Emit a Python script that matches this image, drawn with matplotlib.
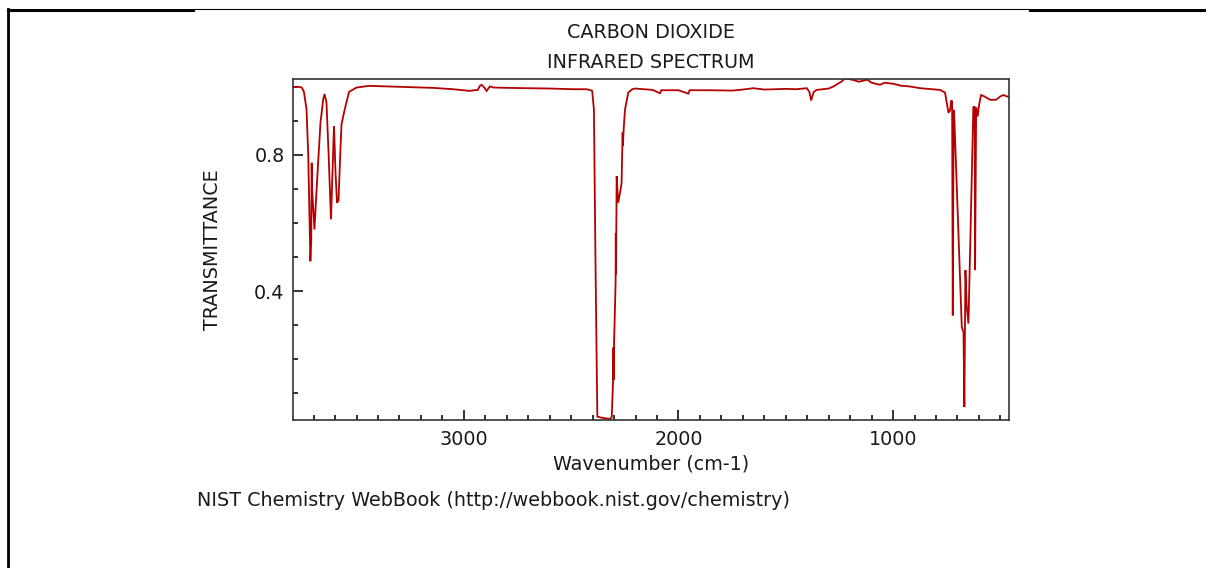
import matplotlib
matplotlib.use('Agg')
import matplotlib.pyplot as plt
from matplotlib.lines import Line2D
from matplotlib.ticker import MultipleLocator, FixedLocator

# 光谱数据
wavenumber = [
    3796, 3770, 3755, 3745, 3733, 3725, 3715, 3711, 3709, 3707, 3696, 3687,
    3675, 3668, 3655, 3649, 3640, 3630, 3619, 3612, 3605, 3598, 3591, 3584,
    3576, 3570, 3555, 3535, 3500, 3440,
    3400, 3300, 3200, 3145, 3050, 2972, 2950, 2935, 2925, 2917, 2905, 2894,
    2885, 2879, 2860, 2800, 2700, 2600, 2492, 2430, 2413, 2402,
    2394, 2386, 2378, 2360, 2340, 2320, 2311, 2305, 2303, 2302, 2300, 2293,
    2292, 2291, 2288, 2281, 2272, 2265, 2263, 2260, 2259, 2255, 2249, 2234,
    2215, 2203, 2164, 2120, 2086, 2080, 2000, 1954, 1948, 1850, 1750, 1700,
    1651, 1600, 1550, 1500, 1450, 1402, 1390, 1382, 1370, 1356, 1300, 1278,
    1239, 1224, 1200, 1185, 1160, 1120, 1100, 1061, 1040, 999, 960, 921,
    874, 820, 781, 758, 742, 735, 729, 725, 722, 718, 716, 680, 672, 668,
    663, 657, 649, 626, 620, 618, 613, 606, 600, 590, 575, 548, 520, 500,
    486, 470, 460,
]
transmittance = [
    1.000, 1.000, 0.998, 0.985, 0.934, 0.800, 0.488, 0.550, 0.777, 0.700, 0.581, 0.689,
    0.820, 0.895, 0.965, 0.979, 0.954, 0.800, 0.611, 0.750, 0.885, 0.750, 0.660, 0.665,
    0.800, 0.890, 0.934, 0.985, 0.998, 1.003,
    1.002, 1.000, 0.998, 0.997, 0.993, 0.988, 0.990, 0.991, 1.003, 1.006, 0.998, 0.988,
    0.996, 1.001, 0.998, 0.997, 0.996, 0.995, 0.993, 0.993, 0.991, 0.988,
    0.934, 0.450, 0.032, 0.029, 0.027, 0.025, 0.030, 0.130, 0.235, 0.140, 0.250, 0.424,
    0.571, 0.450, 0.738, 0.660, 0.690, 0.719, 0.787, 0.866, 0.826, 0.880, 0.934, 0.983,
    0.993, 0.995, 0.993, 0.991, 0.981, 0.990, 0.990, 0.980, 0.990, 0.990, 0.989, 0.992,
    0.996, 0.992, 0.993, 0.994, 0.993, 0.996, 0.985, 0.960, 0.985, 0.991, 0.995, 1.001,
    1.016, 1.025, 1.022, 1.020, 1.015, 1.021, 1.012, 1.006, 1.012, 1.009, 1.003, 1.001,
    0.996, 0.993, 0.991, 0.983, 0.924, 0.930, 0.960, 0.957, 0.329, 0.932, 0.930, 0.295, 0.280, 0.060,
    0.462, 0.356, 0.305, 0.942, 0.940, 0.462, 0.939, 0.913, 0.945, 0.976, 0.972, 0.962, 0.962, 0.972,
    0.976, 0.972, 0.970,
]

x_ticks = [3000, 2000, 1000]
y_ticks = [0.4, 0.8]

plt.rcParams['font.family'] = ['DejaVu Sans']
fs = 13.8
txt_color = '#1a1a1a'

fig = plt.figure(figsize=(12.06, 5.68), dpi=100)
ax = fig.add_axes([293 / 1206, 1 - 420 / 568, (1009 - 293) / 1206, (420 - 79) / 568])

ax.plot(wavenumber, transmittance, color='#b40000', lw=1.3, solid_joinstyle='miter')
ax.set_xlim(3796, 460)
ax.set_ylim(0.022, 1.023)

ax.xaxis.set_major_locator(FixedLocator(x_ticks))
ax.xaxis.set_minor_locator(MultipleLocator(100))
ax.yaxis.set_major_locator(FixedLocator(y_ticks))
ax.yaxis.set_minor_locator(MultipleLocator(0.1))
ax.set_xticklabels([str(t) for t in x_ticks])
ax.set_yticklabels([str(t) for t in y_ticks])

ax.tick_params(which='both', direction='in', top=False, right=False,
               width=1.3, color='#222222', labelsize=fs, labelcolor=txt_color)
ax.tick_params(which='major', length=7)
ax.tick_params(which='minor', length=3.5)
ax.tick_params(axis='x', which='major', pad=7)
ax.tick_params(axis='y', which='major', pad=6)

for s in ax.spines.values():
    s.set_linewidth(1.2)
    s.set_color('#333333')

ax.set_xlabel('Wavenumber (cm-1)', fontsize=fs, labelpad=4, color=txt_color)
ax.set_ylabel('TRANSMITTANCE', fontsize=fs, labelpad=23, color=txt_color)

# 标题两行
fig.text(651 / 1206, 1 - 33 / 568, 'CARBON DIOXIDE', ha='center', va='center',
         fontsize=fs, color=txt_color)
fig.text(651 / 1206, 1 - 62 / 568, 'INFRARED SPECTRUM', ha='center', va='center',
         fontsize=fs, color=txt_color)

# 底部来源说明
fig.text(197 / 1206, 1 - 500 / 568, 'NIST Chemistry WebBook (http://webbook.nist.gov/chemistry)',
         ha='left', va='center', fontsize=fs, color=txt_color)

# 页面边框线
W, H = 1206.0, 568.0
fig.add_artist(Line2D([7.5 / W, 193 / W], [1 - 9.5 / H, 1 - 9.5 / H], color='black', lw=2.2,
                      transform=fig.transFigure))
fig.add_artist(Line2D([193 / W, 1030 / W], [1 - 8.5 / H, 1 - 8.5 / H], color='black', lw=0.8,
                      transform=fig.transFigure))
fig.add_artist(Line2D([1030 / W, 1 + 0.01], [1 - 9.5 / H, 1 - 9.5 / H], color='black', lw=2.2,
                      transform=fig.transFigure))
fig.add_artist(Line2D([8 / W, 8 / W], [1 - 8.5 / H, -0.01], color='black', lw=2.0,
                      transform=fig.transFigure))

fig.savefig('out.png', dpi=100)
